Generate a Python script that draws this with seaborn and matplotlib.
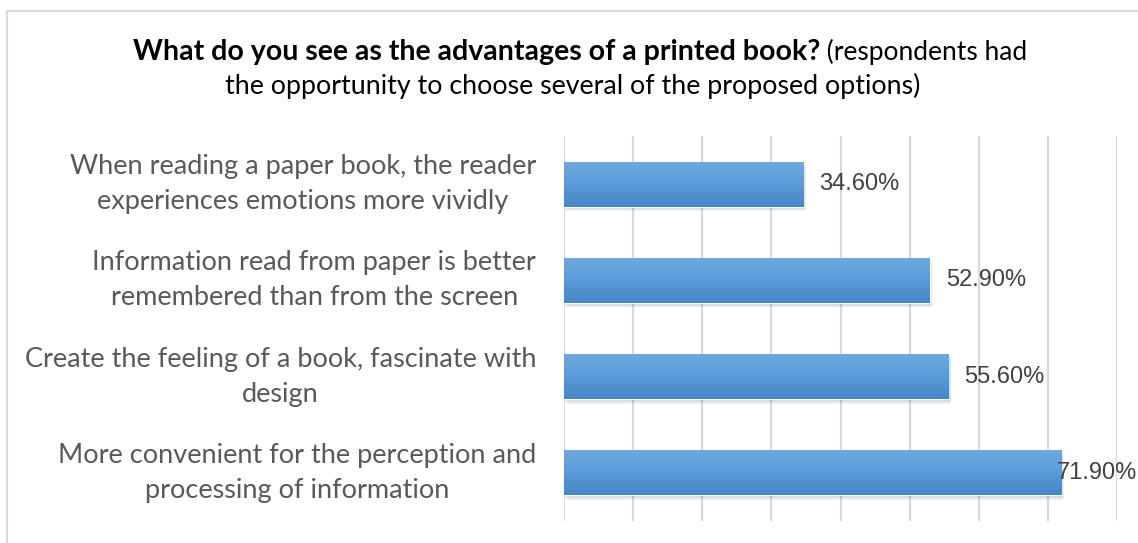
import numpy as np
import pandas as pd
import matplotlib
matplotlib.use("Agg")
import matplotlib.pyplot as plt
import matplotlib.transforms as mtransforms
from matplotlib.patches import Rectangle
from matplotlib.lines import Line2D
from matplotlib.colors import LinearSegmentedColormap
import seaborn as sns

# ---- data -------------------------------------------------------------
categories = [
    "When reading a paper book, the reader\nexperiences emotions more vividly",
    "Information read from paper is better\nremembered than from the screen",
    "Create the feeling of a book, fascinate with\ndesign",
    "More convenient for the perception and\nprocessing of information",
]
shares = [0.346, 0.529, 0.556, 0.719]
value_labels = ["34.60%", "52.90%", "55.60%", "71.90%"]
x_ticks = [0.0, 0.1, 0.2, 0.3, 0.4, 0.5, 0.6, 0.7, 0.8]

title_bold = "What do you see as the advantages of a printed book?"
title_rest = " (respondents had"
title_line2 = "the opportunity to choose several of the proposed options)"

# ---- style ------------------------------------------------------------
sns.set_theme(style="white")
plt.rcParams["font.family"] = ["Lato", "DejaVu Sans"]

W, H = 1138, 543
fig = plt.figure(figsize=(W / 100, H / 100), dpi=100)
fig.patch.set_facecolor("white")

ax = fig.add_axes([564 / W, 1 - 521 / H, (1117 - 564) / W, (521 - 136) / H])

df = pd.DataFrame({"option": categories, "share": shares})
sns.barplot(data=df, y="option", x="share", orient="h", color="#5B9BD5",
            saturation=1, width=0.47, ax=ax, zorder=2)

ax.set_xlim(x_ticks[0], x_ticks[-1])
ax.set_xticks(x_ticks)
ax.set_xticklabels([])
ax.set_xlabel("")
ax.set_ylabel("")
ax.grid(axis="x", color="#d9d9d9", linewidth=1.6)
ax.grid(axis="y", visible=False)
ax.set_axisbelow(True)
for s in ax.spines.values():
    s.set_visible(False)
ax.tick_params(axis="both", length=0)
ax.set_yticks(range(len(categories)), labels=categories, fontsize=19.5,
              color="#595959", multialignment="center", linespacing=1.5,
              verticalalignment="center")
ax.tick_params(axis="y", pad=20)

xlim, ylim = ax.get_xlim(), ax.get_ylim()

# vertical gradient fill and soft drop shadow for each bar
grad_cmap = LinearSegmentedColormap.from_list(
    "bar_grad", [(0.0, "#72A9DF"), (0.5, "#5A9BDA"), (1.0, "#4685C6")])
grad = np.linspace(0, 1, 64).reshape(-1, 1)
bars = list(ax.patches)
for p in bars:
    x0, y0, w, h = p.get_x(), p.get_y(), p.get_width(), p.get_height()
    for k in range(1, 6):
        off = mtransforms.ScaledTranslation(k * 0.006, -k * 0.009, fig.dpi_scale_trans)
        sh = Rectangle((x0, y0), w, h, transform=ax.transData + off,
                       facecolor="black", edgecolor="none", alpha=0.045, zorder=1.5)
        ax.add_patch(sh)
    im = ax.imshow(grad, cmap=grad_cmap, aspect="auto", extent=(x0, x0 + w, y0 + h, y0),
                   origin="upper", zorder=2.1, interpolation="bilinear")
    im.set_clip_path(p)

ax.set_xlim(xlim)
ax.set_ylim(ylim)

# value labels to the right of the bars, kept inside the figure
fig.canvas.draw()
renderer = fig.canvas.get_renderer()
for i, (v, lab) in enumerate(zip(shares, value_labels)):
    t = ax.annotate(lab, xy=(v, i), xytext=(11.5, 0), textcoords="offset points",
                    ha="left", va="center", fontsize=17, color="#404040",
                    family=["Liberation Sans", "DejaVu Sans"], zorder=3)
    bb = t.get_window_extent(renderer)
    overflow = bb.x1 - (W - 1)
    if overflow > 0:
        t.set_position((11.5 - overflow * 72 / 100, 0))

# two-line title, first line mixes bold and regular text
tb = fig.text(0, 0, title_bold, fontsize=20.5, fontweight="bold", color="black",
              ha="left", va="baseline")
tr = fig.text(0, 0, title_rest, fontsize=19.0, color="black", ha="left", va="baseline")
w_b = tb.get_window_extent(renderer).width
w_r = tr.get_window_extent(renderer).width
start = 580 - (w_b + w_r) / 2
y1 = 1 - 60 / H
tb.set_position((start / W, y1))
tr.set_position(((start + w_b) / W, y1))
fig.text(573 / W, 1 - 94 / H, title_line2, fontsize=19.3, color="black",
         ha="center", va="baseline")

# chart-area border (top and left edges)
fig.add_artist(Line2D([7 / W, 1], [1 - 11 / H, 1 - 11 / H], transform=fig.transFigure,
                      color="#d9d9d9", linewidth=1.5))
fig.add_artist(Line2D([7 / W, 7 / W], [0, 1 - 11 / H], transform=fig.transFigure,
                      color="#d9d9d9", linewidth=1.5))

fig.savefig("out.png", dpi=100)
